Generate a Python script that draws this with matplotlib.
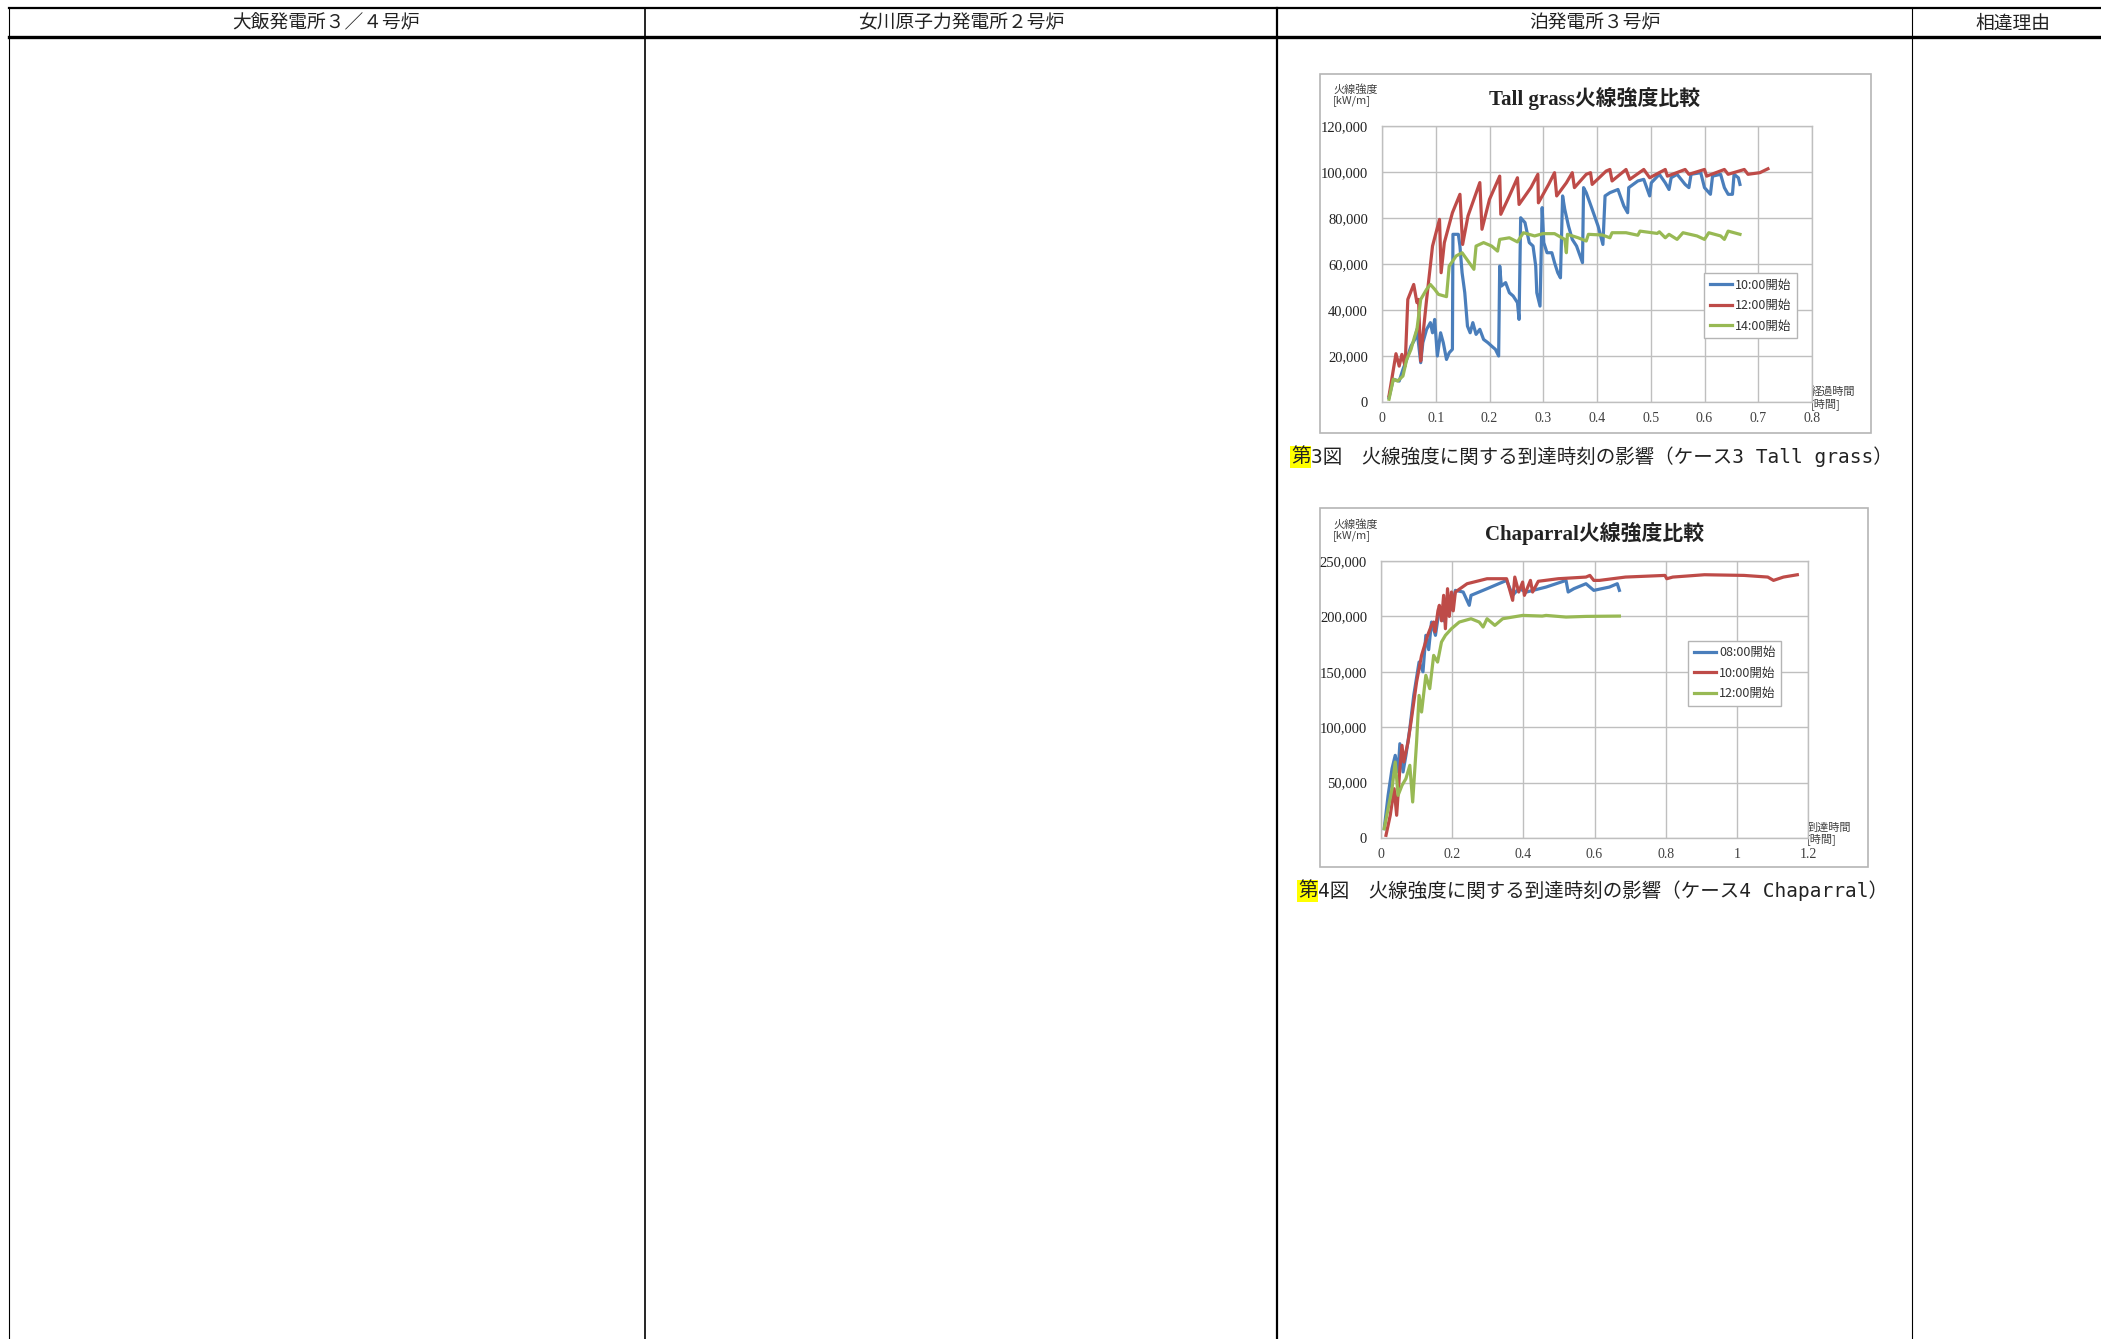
#!/usr/bin/env python3
# -*- coding: utf-8 -*-
# Recreation of the comparison table page with the two fire-line intensity charts

import matplotlib
matplotlib.use("Agg")
import matplotlib.pyplot as plt
from matplotlib.patches import Rectangle

plt.rcParams['font.family'] = ['Noto Sans CJK JP', 'DejaVu Sans']

W, H = 2101, 1339

# ---- table header ----
header_labels = ['大飯発電所３／４号炉', '女川原子力発電所２号炉', '泊発電所３号炉', '相違理由']
col_lines = [9, 645, 1277, 1912]

# ---- chart 1: Tall grass (x = elapsed time [h], y = kW/m) ----
tg_blue_x = [0.013, 0.021, 0.032, 0.039, 0.046, 0.054, 0.061, 0.065, 0.072, 0.076, 0.083, 0.090,
             0.094, 0.098, 0.103, 0.109, 0.114, 0.120, 0.125, 0.131, 0.132, 0.142, 0.145, 0.149,
             0.154, 0.159, 0.164, 0.169, 0.175, 0.182, 0.189, 0.197, 0.204, 0.211, 0.217, 0.219,
             0.222, 0.230, 0.237, 0.244, 0.252, 0.255, 0.258, 0.266, 0.274, 0.281, 0.286, 0.288,
             0.294, 0.298, 0.301, 0.307, 0.316, 0.321, 0.327, 0.332, 0.336, 0.340, 0.347, 0.354,
             0.362, 0.373, 0.375, 0.380, 0.391, 0.402, 0.411, 0.415, 0.424, 0.439, 0.450, 0.457,
             0.459, 0.476, 0.487, 0.498, 0.501, 0.516, 0.527, 0.534, 0.538, 0.549, 0.564, 0.571,
             0.575, 0.593, 0.600, 0.611, 0.615, 0.630, 0.637, 0.644, 0.652, 0.655, 0.663, 0.666]
tg_blue_y = [1900, 9900, 9100, 14200, 18500, 24300, 27200, 31600, 17100, 25800, 31600, 34500,
             30100, 35900, 20000, 30100, 25800, 18500, 21400, 22900, 72900, 72900, 67800, 56200,
             47500, 33000, 30100, 34500, 29400, 31600, 27200, 25800, 24300, 22900, 20000, 59100,
             50400, 51900, 47500, 46100, 43200, 35900, 80100, 78000, 69300, 67800, 59100, 47500,
             41700, 84500, 69300, 64900, 64900, 60600, 56200, 54000, 89600, 83800, 76500, 70700,
             67800, 60600, 93200, 91000, 83800, 76500, 68500, 89600, 91000, 92400, 85200, 82300,
             93200, 96100, 96800, 89600, 95300, 99000, 95300, 92400, 97500, 99000, 94600, 93200,
             99000, 99700, 93200, 90300, 98200, 99000, 93200, 90300, 90300, 99000, 97500, 94600]

tg_red_x = [0.013, 0.026, 0.032, 0.037, 0.043, 0.048, 0.059, 0.065, 0.068, 0.072, 0.076, 0.083,
            0.094, 0.107, 0.110, 0.116, 0.131, 0.145, 0.150, 0.160, 0.182, 0.186, 0.200, 0.219,
            0.221, 0.237, 0.252, 0.255, 0.277, 0.290, 0.291, 0.310, 0.321, 0.325, 0.343, 0.354,
            0.358, 0.380, 0.388, 0.391, 0.417, 0.424, 0.428, 0.454, 0.461, 0.487, 0.498, 0.527,
            0.531, 0.564, 0.571, 0.600, 0.604, 0.637, 0.644, 0.674, 0.681, 0.703, 0.718]
tg_red_y = [2600, 21000, 15600, 20700, 15600, 44600, 51100, 43200, 44600, 17800, 28700, 44600,
            67800, 79400, 56200, 69300, 82300, 90300, 68500, 80900, 95400, 75100, 88100, 98200,
            81600, 89600, 97500, 85900, 93200, 99000, 86600, 94600, 99700, 89600, 95300, 99700,
            93200, 99000, 99700, 94600, 100400, 101100, 96100, 101100, 96800, 101100, 97500, 101100,
            98200, 101100, 99000, 101100, 98200, 101100, 99000, 101100, 99000, 99700, 101400]

tg_green_x = [0.013, 0.021, 0.029, 0.039, 0.046, 0.054, 0.061, 0.065, 0.072, 0.083, 0.090, 0.098,
              0.105, 0.120, 0.125, 0.138, 0.149, 0.160, 0.171, 0.175, 0.189, 0.204, 0.215, 0.219,
              0.237, 0.252, 0.263, 0.284, 0.299, 0.321, 0.340, 0.343, 0.345, 0.365, 0.380, 0.384,
              0.410, 0.424, 0.428, 0.454, 0.476, 0.480, 0.512, 0.516, 0.527, 0.534, 0.549, 0.560,
              0.586, 0.600, 0.608, 0.630, 0.637, 0.644, 0.666]
tg_green_y = [1200, 9900, 9100, 11300, 18500, 22900, 28700, 31600, 44600, 49000, 51100, 49000,
              46800, 45800, 59100, 63500, 64900, 61300, 57700, 67800, 69300, 67800, 65600, 70700,
              71400, 69600, 73600, 72200, 73200, 73200, 70700, 64900, 72900, 71400, 70000, 72900,
              72600, 71400, 73600, 73600, 72500, 74300, 73300, 74000, 71400, 72900, 70700, 73600,
              72200, 70700, 73600, 72200, 70700, 74300, 72900]

tg_labels = ['10:00開始', '12:00開始', '14:00開始']
tg_xticks = [0, 0.1, 0.2, 0.3, 0.4, 0.5, 0.6, 0.7, 0.8]
tg_yticks = [0, 20000, 40000, 60000, 80000, 100000, 120000]

# ---- chart 2: Chaparral (x = arrival time [h], y = kW/m) ----
ch_blue_x = [0.009, 0.020, 0.031, 0.040, 0.048, 0.053, 0.062, 0.070, 0.081, 0.092, 0.107, 0.118,
             0.126, 0.134, 0.142, 0.153, 0.164, 0.176, 0.187, 0.198, 0.209, 0.231, 0.248, 0.253,
             0.298, 0.353, 0.370, 0.387, 0.409, 0.464, 0.520, 0.526, 0.542, 0.576, 0.598, 0.642,
             0.664, 0.670]
ch_blue_y = [8400, 38500, 62600, 74600, 59600, 85100, 59600, 74600, 98700, 128700, 158800, 150000,
             182900, 170000, 194900, 182900, 207000, 196000, 219000, 206000, 223500, 222000, 210000,
             219000, 225000, 232500, 219000, 225000, 222000, 226500, 232500, 222000, 225000, 229500,
             223500, 226500, 229500, 223500]

ch_red_x = [0.014, 0.026, 0.037, 0.044, 0.053, 0.059, 0.064, 0.076, 0.087, 0.100, 0.114, 0.131,
            0.142, 0.148, 0.152, 0.160, 0.164, 0.170, 0.176, 0.181, 0.187, 0.192, 0.198, 0.203,
            0.209, 0.242, 0.298, 0.353, 0.370, 0.376, 0.387, 0.398, 0.403, 0.420, 0.426, 0.442,
            0.498, 0.576, 0.587, 0.598, 0.614, 0.687, 0.798, 0.803, 0.820, 0.909, 1.020, 1.087,
            1.103, 1.131, 1.170]
ch_red_y = [2400, 20500, 44500, 20500, 62600, 83600, 68600, 86600, 110700, 140800, 164800, 182900,
            192000, 194900, 186000, 205000, 210000, 196000, 219000, 188900, 225000, 200000, 222000,
            205000, 222000, 229500, 234000, 234000, 214500, 235500, 222000, 231000, 219000, 232500,
            222000, 231700, 234000, 235500, 237000, 232500, 232500, 235500, 237000, 234000, 235500,
            237600, 237000, 235500, 232500, 235500, 237600]

ch_green_x = [0.009, 0.020, 0.031, 0.040, 0.048, 0.059, 0.070, 0.081, 0.089, 0.100, 0.107, 0.114,
              0.126, 0.137, 0.148, 0.159, 0.170, 0.181, 0.198, 0.220, 0.253, 0.276, 0.287, 0.298,
              0.320, 0.342, 0.398, 0.453, 0.464, 0.520, 0.576, 0.670]
ch_green_y = [8400, 26500, 44500, 68600, 38500, 47500, 53500, 65600, 32500, 86600, 128700, 113700,
              146800, 134800, 164800, 158800, 176900, 182900, 188900, 194900, 197900, 194900, 190400,
              197900, 191900, 197900, 200900, 200300, 200900, 199400, 200000, 200300]

ch_labels = ['08:00開始', '10:00開始', '12:00開始']
ch_xticks = [0, 0.2, 0.4, 0.6, 0.8, 1.0, 1.2]
ch_yticks = [0, 50000, 100000, 150000, 200000, 250000]

blue = '#4a7ebb'
red = '#be4b48'
green = '#98b954'
grid_col = '#bfbfbf'


def rect(x0, y0, x1, y1):
    # pixel box (top-left origin) -> figure fraction
    return [x0 / W, 1 - y1 / H, (x1 - x0) / W, (y1 - y0) / H]


fig = plt.figure(figsize=(W / 100, H / 100), dpi=100)
bg = fig.add_axes([0, 0, 1, 1])
bg.set_xlim(0, W)
bg.set_ylim(H, 0)
bg.axis('off')

# table lines
bg.plot([9, W], [8, 8], color='black', lw=1.6)
bg.plot([9, W], [37, 37], color='black', lw=2.4)
for i, x in enumerate(col_lines):
    bg.plot([x, x], [8, H], color='black', lw=[0.8, 1.2, 1.6, 0.8][i])
centers = [326, 961, 1595, 2013]
for lab, cx in zip(header_labels, centers):
    bg.text(cx, 23, lab, ha='center', va='center', fontsize=13.5, color='#222222')

# chart frames
bg.add_patch(Rectangle((1320, 74), 551, 359, facecolor='white', edgecolor='#b5b5b5', lw=1.2))
bg.add_patch(Rectangle((1320, 508), 548, 359, facecolor='white', edgecolor='#b5b5b5', lw=1.2))


def draw_chart(box, xs, ys, labels, xticks, xmax, yticks, ymax, title, ty, xlab, leg_anchor):
    ax = fig.add_axes(rect(*box))
    for x, y, c, lab in zip(xs, ys, [blue, red, green], labels):
        ax.plot(x, y, color=c, lw=2.3, label=lab)
    ax.set_xlim(0, xmax)
    ax.set_ylim(0, ymax)
    ax.set_xticks(xticks, labels=[('%g' % t) for t in xticks],
                  fontsize=10, fontfamily='Liberation Serif', color='#404040')
    ax.set_yticks(yticks, labels=['{:,}'.format(t) for t in yticks],
                  fontsize=10.5, fontfamily='Liberation Serif', color='#222222')
    ax.tick_params(length=0)
    ax.tick_params(axis='x', pad=7)
    ax.tick_params(axis='y', pad=10)
    ax.grid(True, color=grid_col, lw=1)
    ax.set_axisbelow(True)
    for s in ax.spines.values():
        s.set_color(grid_col)
        s.set_linewidth(1)
    leg = ax.legend(loc='upper left', bbox_to_anchor=leg_anchor, fontsize=9,
                    frameon=True, fancybox=False, handlelength=1.8, handletextpad=0.2,
                    labelspacing=0.6, borderpad=0.45, framealpha=1)
    leg.get_frame().set_edgecolor('#b5b5b5')
    leg.get_frame().set_linewidth(1)
    for t in leg.get_texts():
        t.set_color('#333333')
    bg.text(1595, ty, title, ha='center', va='center', fontsize=15, fontweight='bold',
            family=['Liberation Serif', 'Noto Sans CJK JP'], color='#222222')
    bg.text(1333, ty - 3, '火線強度\n[kW/m]', ha='left', va='center', fontsize=8,
            color='#404040', linespacing=1.1)
    bg.text(box[2] - 1, box[3] - 4, xlab + '\n[時間]', ha='left', va='center', fontsize=8,
            color='#404040', linespacing=1.1)
    return ax


draw_chart((1382, 126, 1812, 402), [tg_blue_x, tg_red_x, tg_green_x],
           [tg_blue_y, tg_red_y, tg_green_y], tg_labels, tg_xticks, 0.8, tg_yticks, 120000,
           'Tall grass火線強度比較', 98, '経過時間', (0.735, 0.49))
draw_chart((1381, 561, 1808, 838), [ch_blue_x, ch_red_x, ch_green_x],
           [ch_blue_y, ch_red_y, ch_green_y], ch_labels, ch_xticks, 1.2, ch_yticks, 250000,
           'Chaparral火線強度比較', 533, '到達時間', (0.705, 0.735))

# captions with yellow highlight on the first character
cap_family = ['DejaVu Sans Mono', 'Noto Sans CJK JP']
for x0, y0, rest in [(1291, 457, '3図　火線強度に関する到達時刻の影響（ケース3 Tall grass）'),
                     (1298, 891, '4図　火線強度に関する到達時刻の影響（ケース4 Chaparral）')]:
    bg.text(x0, y0, '第', ha='left', va='center', fontsize=14, color='#222222',
            bbox=dict(facecolor='#ffff00', edgecolor='none', pad=0.5))
    bg.text(x0 + 20, y0, rest, ha='left', va='center', fontsize=14, color='#222222',
            family=cap_family)

fig.savefig('out.png', dpi=100)
